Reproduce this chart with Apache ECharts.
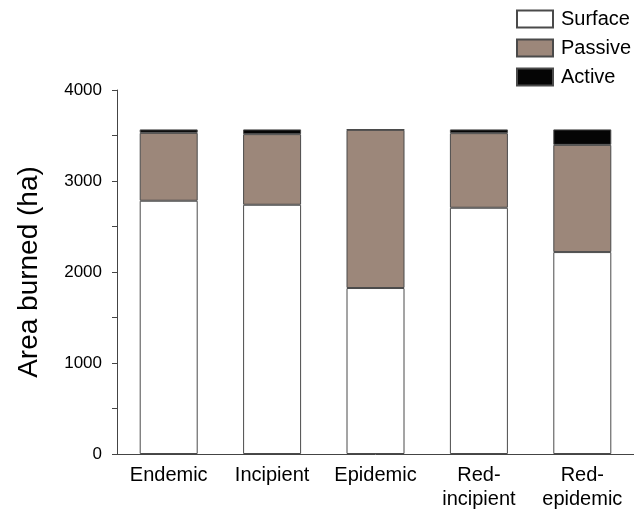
<!DOCTYPE html>
<html><head><meta charset="utf-8">
<script src="https://cdn.jsdelivr.net/npm/echarts@6/dist/echarts.min.js"></script>
<style>html,body{margin:0;padding:0;background:#fff}#c{width:634px;height:511px}</style>
</head><body><div id="c"></div>
<script>
const categories = ['Endemic', 'Incipient', 'Epidemic', 'Red-\nincipient', 'Red-\nepidemic'];
const surface = [2783, 2739, 1824, 2706, 2219];
const passive = [746, 776, 1738, 820, 1178];
const active = [38, 52, 5, 41, 170];
const yTicks = [0, 1000, 2000, 3000, 4000];

const font = 'Liberation Sans, Arial, Helvetica, sans-serif';
const chart = echarts.init(document.getElementById('c'));
const border = {borderColor: '#4a4a4a', borderWidth: 1};
chart.setOption({
  animation: false,
  textStyle: {fontFamily: font},
  grid: {left: 117, right: 0, top: 90, bottom: 56.5},
  legend: {
    orient: 'vertical', left: 516, top: 9, padding: 0,
    icon: 'rect',
    itemWidth: 36, itemHeight: 17, itemGap: 9,
    textStyle: {fontSize: 20, color: '#000', fontFamily: font, padding: [0, 0, 0, 3]},
    data: ['Surface', 'Passive', 'Active']
  },
  xAxis: {
    type: 'category', data: categories,
    axisLine: {lineStyle: {color: '#444', width: 1}},
    axisTick: {alignWithLabel: true, length: 4, lineStyle: {color: '#444'}},
    axisLabel: {color: '#000', fontSize: 20, margin: 9, lineHeight: 24, fontFamily: font, interval: 0}
  },
  yAxis: {
    type: 'value', min: 0, max: 4000, interval: 1000,
    name: 'Area burned (ha)', nameLocation: 'middle', nameGap: 74,
    nameTextStyle: {fontSize: 28, color: '#000', fontFamily: font},
    axisLine: {show: true, lineStyle: {color: '#444', width: 1}},
    axisTick: {show: true, length: 5, lineStyle: {color: '#444'}},
    minorTick: {show: true, splitNumber: 2, length: 5, lineStyle: {color: '#444'}},
    splitLine: {show: false},
    axisLabel: {color: '#000', fontSize: 17, margin: 15, fontFamily: font,
      formatter: v => yTicks.includes(v) ? String(v) : ''}
  },
  series: [
    {name: 'Surface', type: 'bar', stack: 't', data: surface, barWidth: 58,
     itemStyle: Object.assign({color: '#ffffff'}, border)},
    {name: 'Passive', type: 'bar', stack: 't', data: passive, barWidth: 58,
     itemStyle: Object.assign({color: '#9c877a'}, border)},
    {name: 'Active', type: 'bar', stack: 't', data: active, barWidth: 58,
     itemStyle: Object.assign({color: '#050505'}, border)}
  ]
});
</script></body></html>
